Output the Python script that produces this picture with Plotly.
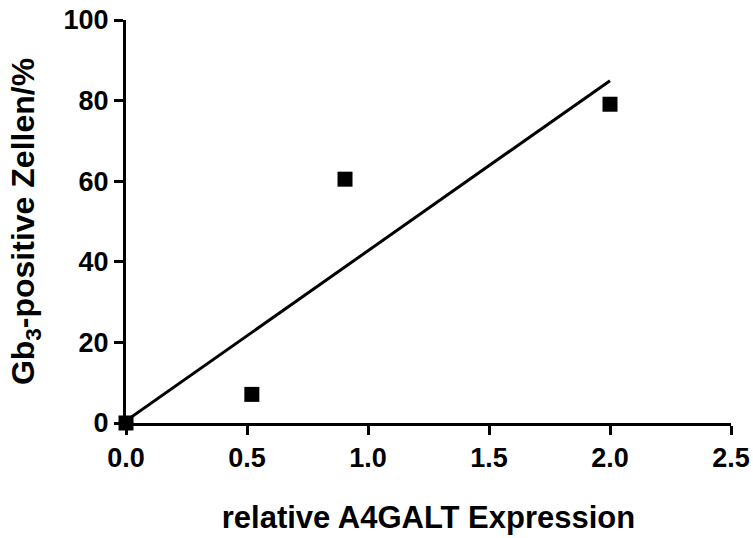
import numpy as np
import plotly.graph_objects as go

# Data
expr = [0.0, 0.52, 0.905, 2.0]
gb3_pos = [0.0, 7.1, 60.5, 79.1]
x_ticks = [0.0, 0.5, 1.0, 1.5, 2.0, 2.5]
x_ticklabels = ["0.0", "0.5", "1.0", "1.5", "2.0", "2.5"]
y_ticks = [0, 20, 40, 60, 80, 100]
y_ticklabels = ["0", "20", "40", "60", "80", "100"]

slope, intercept = np.polyfit(expr, gb3_pos, 1)
fit_x = [min(expr), max(expr)]
fit_y = [slope * v + intercept for v in fit_x]

FONT = "Liberation Sans, Arial, sans-serif"

fig = go.Figure()
fig.add_trace(go.Scatter(x=fit_x, y=fit_y, mode="lines",
                         line=dict(color="black", width=3),
                         cliponaxis=False, showlegend=False))
fig.add_trace(go.Scatter(x=expr, y=gb3_pos, mode="markers",
                         marker=dict(symbol="square", size=15, color="black"),
                         cliponaxis=False, showlegend=False))

axis_common = dict(showgrid=False, zeroline=False, showline=True,
                   linecolor="black", linewidth=3, ticks="outside",
                   ticklen=9, tickwidth=3, tickcolor="black", automargin=False,
                   tickfont=dict(family=FONT, size=27, color="black", weight="bold"))

fig.update_xaxes(range=[0, 2.5], tickvals=x_ticks, ticktext=x_ticklabels,
                 title=dict(text="relative A4GALT Expression",
                            font=dict(family=FONT, size=31, color="black", weight="bold"),
                            standoff=34),
                 **axis_common)
fig.update_yaxes(range=[0, 100], tickvals=y_ticks, ticktext=y_ticklabels,
                 title=dict(text="Gb<sub>3</sub>-positive Zellen/%",
                            font=dict(family=FONT, size=32, color="black", weight="bold"),
                            standoff=20),
                 **axis_common)

fig.update_layout(width=753, height=538,
                  margin=dict(l=126, r=22, t=20, b=115),
                  plot_bgcolor="white", paper_bgcolor="white")

fig.write_html("out.html")
